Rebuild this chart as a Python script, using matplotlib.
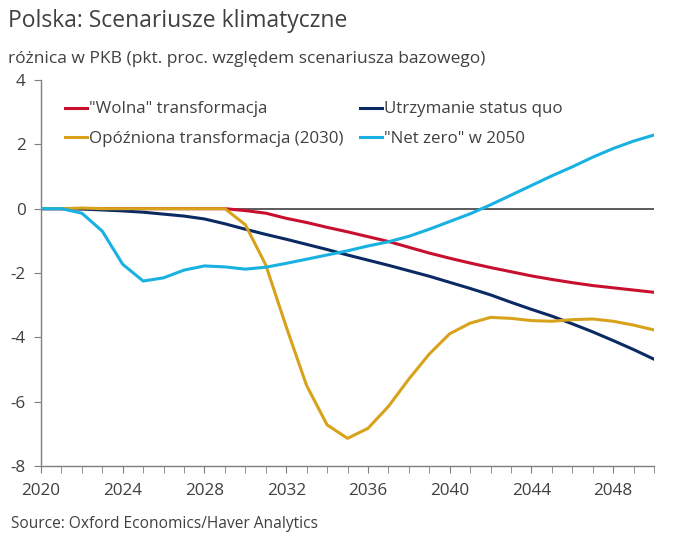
import matplotlib
matplotlib.use("Agg")
import matplotlib.pyplot as plt
from matplotlib.ticker import MultipleLocator

years = list(range(2020, 2051))

wolna = [0, 0, 0, 0, 0, 0, 0, 0, 0, 0,
         -0.06, -0.14, -0.30, -0.43, -0.58, -0.72, -0.87, -1.02, -1.20, -1.38,
         -1.54, -1.69, -1.83, -1.96, -2.09, -2.20, -2.30, -2.39, -2.46, -2.53, -2.60]

status_quo = [0, 0, -0.01, -0.04, -0.07, -0.11, -0.17, -0.23, -0.32, -0.47,
              -0.64, -0.80, -0.95, -1.11, -1.27, -1.44, -1.60, -1.76, -1.93, -2.10,
              -2.29, -2.48, -2.68, -2.91, -3.13, -3.34, -3.58, -3.83, -4.10, -4.38, -4.68]

opozniona = [0, 0, 0.02, 0, 0, 0, 0, 0, 0, 0,
             -0.50, -1.75, -3.67, -5.50, -6.72, -7.14, -6.83, -6.15, -5.30, -4.52,
             -3.89, -3.56, -3.38, -3.41, -3.48, -3.50, -3.45, -3.43, -3.50, -3.62, -3.77]

net_zero = [0, 0, -0.14, -0.70, -1.73, -2.25, -2.15, -1.91, -1.78, -1.81,
            -1.88, -1.82, -1.70, -1.57, -1.44, -1.31, -1.16, -1.03, -0.86, -0.64,
            -0.40, -0.16, 0.12, 0.42, 0.72, 1.02, 1.30, 1.60, 1.87, 2.10, 2.29]

labels = ['"Wolna" transformacja', 'Utrzymanie status quo',
          'Opóźniona transformacja (2030)', '"Net zero" w 2050']
colors = ['#C8102E', '#0B2A63', '#D9A21B', '#18B1E1']

title = "Polska: Scenariusze klimatyczne"
subtitle = "różnica w PKB (pkt. proc. względem scenariusza bazowego)"
source = "Source: Oxford Economics/Haver Analytics"

plt.rcParams['font.family'] = ['Open Sans', 'DejaVu Sans']
plt.rcParams['axes.unicode_minus'] = False
txt = '#404040'

fig = plt.figure(figsize=(6.8, 5.43), dpi=100)
ax = fig.add_axes([41/680, 1-466/543, (654-41)/680, (466-80)/543])

ax.axhline(0, color='#404040', lw=1.2, zorder=1)
series = [wolna, status_quo, opozniona, net_zero]
lines = []
for s, c, l in zip(series, colors, labels):
    ln, = ax.plot(years, s, color=c, lw=2.2, label=l, zorder=3)
    lines.append(ln)

ax.set_xlim(2020, 2050)
ax.set_ylim(-8, 4)
ax.xaxis.set_major_locator(MultipleLocator(4))
ax.xaxis.set_minor_locator(MultipleLocator(1))
ax.yaxis.set_major_locator(MultipleLocator(2))

for sp in ['top', 'right']:
    ax.spines[sp].set_visible(False)
for sp in ['left', 'bottom']:
    ax.spines[sp].set_color('#7f7f7f')
    ax.spines[sp].set_linewidth(1.0)

ax.tick_params(axis='x', which='both', direction='out', color='#7f7f7f',
               labelsize=12.3, labelcolor=txt, pad=7)
ax.tick_params(axis='x', which='major', length=5)
ax.tick_params(axis='x', which='minor', length=5)
ax.tick_params(axis='y', which='major', direction='out', length=5, color='#7f7f7f',
               labelsize=12.3, labelcolor=txt, pad=6)

# reorder legend to match the two-column layout (row-major)
order = [0, 2, 1, 3]
leg = ax.legend([lines[i] for i in order], [labels[i] for i in order],
                ncol=2, frameon=False, loc='upper left',
                bbox_to_anchor=(0.028, 0.962), fontsize=12.2,
                handlelength=1.3, handletextpad=0.1, columnspacing=1.0,
                labelspacing=0.78, borderaxespad=0.0)
for t in leg.get_texts():
    t.set_color(txt)

fig.text(8/680, 1-21/543, title, fontsize=16.5, color=txt, va='center', ha='left')
fig.text(8/680, 1-59/543, subtitle, fontsize=12.5, color=txt, va='center', ha='left')
fig.text(11/680, 1-524/543, source, fontsize=11.2, color=txt, va='center', ha='left')

fig.savefig('out.png', dpi=100)
